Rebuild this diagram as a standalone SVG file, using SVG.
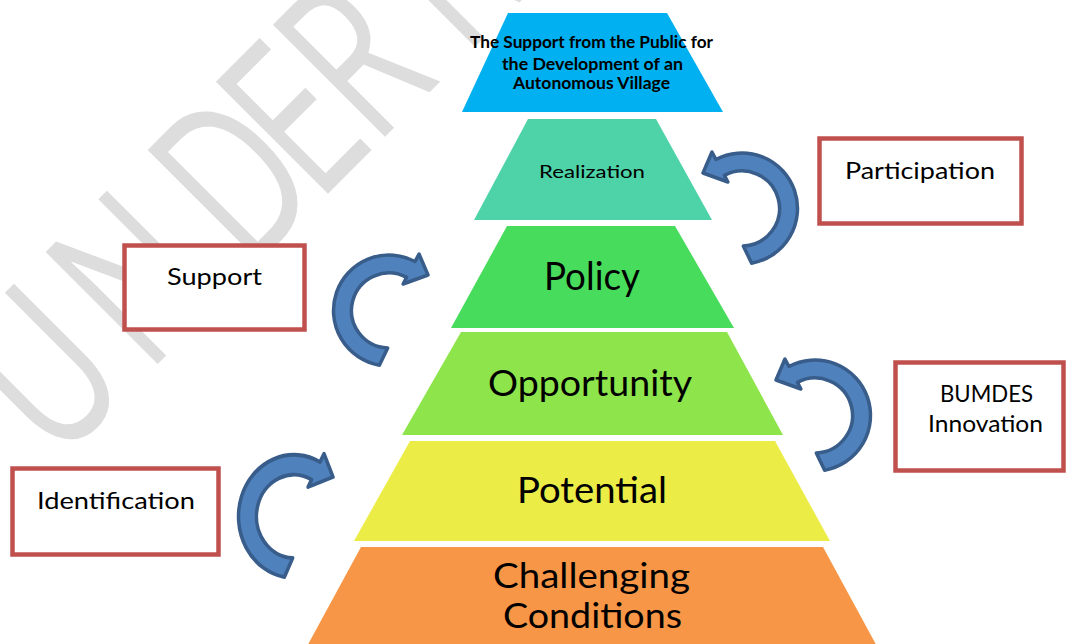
<svg xmlns="http://www.w3.org/2000/svg" width="1067" height="644" viewBox="0 0 1067 644">
<style>
.wm{font-family:"Open Sans","Liberation Sans",sans-serif;font-weight:400;font-size:222px;fill:#dddddd}
.lv{font-family:Lato,"Open Sans","Liberation Sans",sans-serif;fill:#000;text-anchor:middle}
.bx{fill:#fff;stroke:#c0504d;stroke-width:4.5}
.bt{font-family:Lato,"Open Sans","Liberation Sans",sans-serif;font-size:24px;fill:#000;text-anchor:middle}
.arr{fill:#4f81bd;stroke:#385d8a;stroke-width:3.5;stroke-linejoin:round}
</style>
<defs>
<path id="carrow" d="M 9.64 54.66 A 55.5 55.5 0 1 0 -26.06 -49 L -30.05 -56.5 L -39 -35.5 L -14.1 -26.5 L -17.6 -33.1 A 37.5 37.5 0 1 1 1.31 37.48 Z"/>
</defs>
<rect width="1067" height="644" fill="#fff"/>
<text class="wm" transform="rotate(-45) scale(0.7,1)" x="-414 -230 -24 114 229 330 411" y="369">UNDER R</text>

<g id="level-top">
<polygon points="508,13 667,13 723,112 462,112" fill="#00b0f0"/>
<text class="lv" font-weight="bold" font-size="17" x="591.5" y="48" textLength="243" lengthAdjust="spacingAndGlyphs">The Support from the Public for</text>
<text class="lv" font-weight="bold" font-size="17" x="592.5" y="70" textLength="181" lengthAdjust="spacingAndGlyphs">the Development of an</text>
<text class="lv" font-weight="bold" font-size="17" x="591.5" y="89" textLength="157" lengthAdjust="spacingAndGlyphs">Autonomous Village</text>
</g>
<g id="level-realization">
<polygon points="528,119 656,119 712,220 474,220" fill="#4dd3a7"/>
<text class="lv" font-size="18" x="592" y="178" textLength="106" lengthAdjust="spacingAndGlyphs">Realization</text>
</g>
<g id="level-policy">
<polygon points="507,226 675,226 734,328 451,328" fill="#47dc5b"/>
<text class="lv" font-size="38" x="592" y="290" textLength="96" lengthAdjust="spacingAndGlyphs">Policy</text>
</g>
<g id="level-opportunity">
<polygon points="461,332 727,332 783,435 402,435" fill="#8ee54b"/>
<text class="lv" font-size="36" x="590" y="396" textLength="204" lengthAdjust="spacingAndGlyphs">Opportunity</text>
</g>
<g id="level-potential">
<polygon points="410,441 775,441 830,541 354,541" fill="#ecec47"/>
<text class="lv" font-size="36" x="592" y="503" textLength="150" lengthAdjust="spacingAndGlyphs">Potential</text>
</g>
<g id="level-challenging">
<polygon points="361,547 823,547 879,650 305,650" fill="#f79646"/>
<text class="lv" font-size="35" x="591.5" y="588" textLength="197" lengthAdjust="spacingAndGlyphs">Challenging</text>
<text class="lv" font-size="35" x="592.5" y="628" textLength="179" lengthAdjust="spacingAndGlyphs">Conditions</text>
</g>

<g id="box-participation">
<rect class="bx" x="819.5" y="138.5" width="202" height="85"/>
<text class="bt" x="920" y="179" textLength="150" lengthAdjust="spacingAndGlyphs">Participation</text>
</g>
<g id="box-support">
<rect class="bx" x="124.5" y="245.5" width="180" height="84"/>
<text class="bt" x="214.5" y="285" textLength="95" lengthAdjust="spacingAndGlyphs">Support</text>
</g>
<g id="box-bumdes">
<rect class="bx" x="895.5" y="362.5" width="168" height="108"/>
<text class="bt" x="986.5" y="402" textLength="93" lengthAdjust="spacingAndGlyphs">BUMDES</text>
<text class="bt" x="985.5" y="432" textLength="115" lengthAdjust="spacingAndGlyphs">Innovation</text>
</g>
<g id="box-identification">
<rect class="bx" x="12.5" y="468.5" width="206" height="86"/>
<text class="bt" x="116" y="509" textLength="158" lengthAdjust="spacingAndGlyphs">Identification</text>
</g>

<g id="connectors">
<use href="#carrow" class="arr" transform="translate(742,208.5)"/>
<use href="#carrow" class="arr" transform="translate(815,415.5)"/>
<use href="#carrow" class="arr" transform="translate(389,310.5) scale(-1,1)"/>
<use href="#carrow" class="arr" transform="translate(294,516.4) scale(-1,1.11)"/>
</g>
</svg>
